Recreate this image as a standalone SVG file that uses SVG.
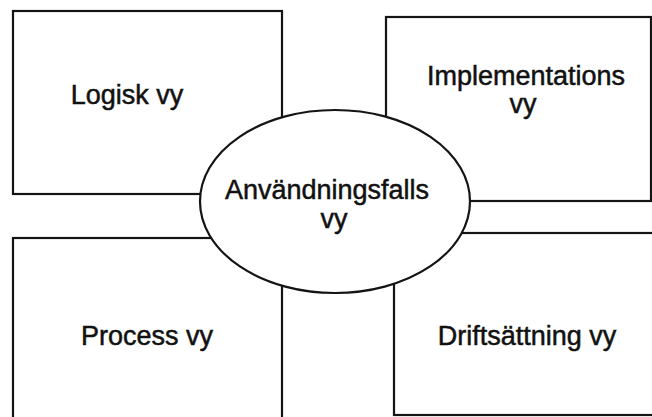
<svg xmlns="http://www.w3.org/2000/svg" width="652" height="417" viewBox="0 0 652 417">
  <style>
    .box { fill: #ffffff; stroke: #141414; stroke-width: 2.2; }
    .lbl { font-family: "Liberation Sans", Arial, sans-serif; font-size: 27px; fill: #111111; stroke: #111111; stroke-width: 0.5; text-anchor: middle; }
  </style>
  <rect width="652" height="417" fill="#ffffff"/>
  <g id="logisk">
    <rect class="box" x="13" y="11" width="269" height="183"/>
    <text class="lbl" x="127" y="104">Logisk vy</text>
  </g>
  <g id="implementation">
    <rect class="box" x="386" y="17" width="265" height="184"/>
    <text class="lbl" x="526" y="85">Implementations</text>
    <text class="lbl" x="523" y="113">vy</text>
  </g>
  <g id="process">
    <rect class="box" x="13" y="238" width="269" height="200"/>
    <text class="lbl" x="147" y="345">Process vy</text>
  </g>
  <g id="driftsattning">
    <rect class="box" x="394" y="233" width="280" height="182"/>
    <text class="lbl" x="527" y="345">Driftsättning vy</text>
  </g>
  <g id="anvandningsfall">
    <ellipse class="box" cx="335" cy="201.5" rx="135" ry="91.5"/>
    <text class="lbl" x="327" y="199">Användningsfalls</text>
    <text class="lbl" x="334" y="228">vy</text>
  </g>
  <g id="connectors"/>
</svg>
